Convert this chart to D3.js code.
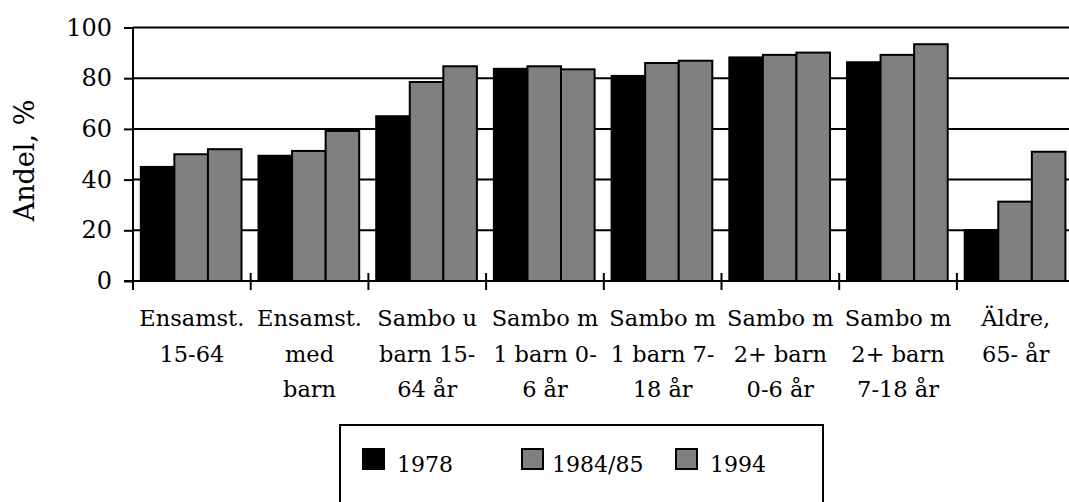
<!DOCTYPE html>
<html>
<head>
<meta charset="utf-8">
<script src="https://cdn.jsdelivr.net/npm/d3@7"></script>
<style>
  html, body { margin: 0; padding: 0; background: #fff; }
  svg { display: block; }
  text { font-family: "DejaVu Serif", serif; fill: #000; }
</style>
</head>
<body>
<svg id="chart" width="1069" height="502"></svg>
<script>
// ---- data ----
const categories = [
  ["Ensamst.", "15-64"],
  ["Ensamst.", "med", "barn"],
  ["Sambo u", "barn 15-", "64 år"],
  ["Sambo m", "1 barn 0-", "6 år"],
  ["Sambo m", "1 barn 7-", "18 år"],
  ["Sambo m", "2+ barn", "0-6 år"],
  ["Sambo m", "2+ barn", "7-18 år"],
  ["Äldre,", "65- år"]
];
const seriesNames = ["1978", "1984/85", "1994"];
const values1978 = [45, 49.4, 65, 83.7, 80.9, 88.2, 86.3, 20.1];
const values1984 = [50, 51.3, 78.5, 84.7, 86, 89.2, 89.2, 31.3];
const values1994 = [52, 59.2, 84.7, 83.5, 86.9, 90.1, 93.4, 51];
const yTicks = [0, 20, 40, 60, 80, 100];
const yTitle = "Andel, %";

const seriesValues = [values1978, values1984, values1994];
const colors = ["#000000", "#808080", "#808080"];

(function () {
// ---- layout ----
const svg = d3.select("#chart");
const mLeft = 133, mTop = 27.5, mBottom = 281;
const catW = 117.7;
const mRight = mLeft + catW * categories.length;

const x0 = d3.scaleBand().domain(d3.range(categories.length)).range([mLeft, mRight]).padding(0);
const x1 = d3.scaleBand().domain(d3.range(seriesNames.length))
  .range([7.8, x0.bandwidth() - 9.2]).padding(0);
const y = d3.scaleLinear().domain([0, 100]).range([mBottom, mTop]);

// gridlines
svg.append("g").selectAll("line").data(yTicks.filter(d => d > 0)).join("line")
  .attr("x1", mLeft).attr("x2", 1069)
  .attr("y1", d => y(d)).attr("y2", d => y(d))
  .attr("stroke", "#000").attr("stroke-width", 2);

// bars
const groups = svg.append("g").selectAll("g").data(categories).join("g")
  .attr("transform", (d, i) => `translate(${x0(i)},0)`);
groups.selectAll("rect")
  .data((d, i) => seriesValues.map((s, j) => ({ j, v: s[i] })))
  .join("rect")
  .attr("x", d => x1(d.j))
  .attr("width", x1.bandwidth())
  .attr("y", d => y(d.v))
  .attr("height", d => y(0) - y(d.v))
  .attr("fill", d => colors[d.j])
  .attr("stroke", "#000").attr("stroke-width", 2);

// y axis
const yAxis = d3.axisLeft(y).tickValues(yTicks).tickSize(9).tickPadding(12).tickFormat(d3.format("d"));
const gy = svg.append("g").attr("transform", `translate(${mLeft},0)`).call(yAxis);
gy.select(".domain").attr("stroke", "#000").attr("stroke-width", 2).attr("d", `M0,${mTop}V${mBottom + 9}`);
gy.selectAll(".tick line").attr("stroke", "#000").attr("stroke-width", 2);
gy.selectAll(".tick text").attr("font-size", 24).attr("font-family", "DejaVu Serif").attr("fill", "#000");

// x axis line
svg.append("line").attr("x1", mLeft - 9).attr("x2", 1069)
  .attr("y1", mBottom).attr("y2", mBottom).attr("stroke", "#000").attr("stroke-width", 2);
// x boundary ticks
svg.append("g").selectAll("line").data(d3.range(categories.length + 1)).join("line")
  .attr("x1", i => mLeft + i * x0.bandwidth()).attr("x2", i => mLeft + i * x0.bandwidth())
  .attr("y1", mBottom - 8).attr("y2", mBottom + 9)
  .attr("stroke", "#000").attr("stroke-width", 2);

// category labels
const lineY = [326, 361.5, 397];
const lab = svg.append("g").selectAll("text").data(categories).join("text")
  .attr("text-anchor", "middle").attr("font-size", 22.5);
lab.selectAll("tspan").data((d, i) => d.map((t, k) => ({ t, k, i }))).join("tspan")
  .attr("x", d => x0(d.i) + x0.bandwidth() / 2)
  .attr("y", d => lineY[d.k])
  .text(d => d.t);

// y title
svg.append("text")
  .attr("transform", `translate(34,160.5) rotate(-90)`)
  .attr("text-anchor", "middle")
  .attr("font-size", 27)
  .text(yTitle);

// legend
const lg = svg.append("g");
lg.append("rect").attr("x", 340).attr("y", 425).attr("width", 483).attr("height", 120)
  .attr("fill", "none").attr("stroke", "#000").attr("stroke-width", 2);
const itemX = [362, 521, 675];
const items = lg.selectAll("g.item").data(seriesNames).join("g").attr("class", "item")
  .attr("transform", (d, i) => `translate(${itemX[i]},448)`);
items.append("rect").attr("x", 1).attr("y", 1).attr("width", 21).attr("height", 20)
  .attr("fill", (d, i) => colors[i]).attr("stroke", "#000").attr("stroke-width", 2);
items.append("text").attr("x", (d, i) => i === 1 ? 31 : 35).attr("y", 23.5)
  .attr("font-size", 22).text(d => d);
})();
</script>
</body>
</html>
